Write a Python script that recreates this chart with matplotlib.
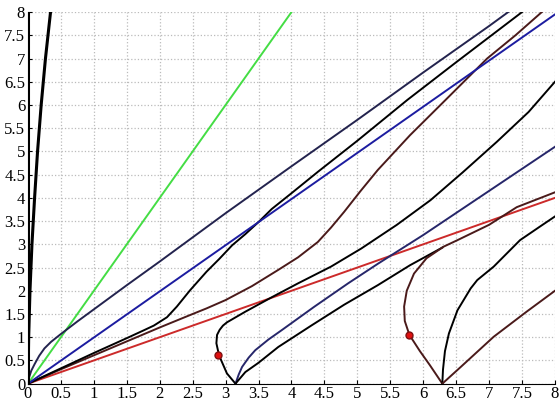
import numpy as np
import matplotlib
matplotlib.use('Agg')
import matplotlib.pyplot as plt
from matplotlib.ticker import MultipleLocator, FormatStrFormatter

plt.rcParams['font.family'] = ['Liberation Serif', 'DejaVu Serif']

# straight reference lines
green_x = [0, 4]
green_y = [0, 8]
blue_x = [0, 8]
blue_y = [0, 7.95]
red_x = [0, 8]
red_y = [0, 4.0]

# branches starting at the origin
axis_x = [0.005, 0.005]
axis_y = [0, 8]
steep_x = [0, 0.01, 0.03, 0.06, 0.10, 0.145, 0.20, 0.265, 0.342]
steep_y = [0, 1, 2, 3, 4, 5, 6, 7, 8]
navy_x = [0, 0.02, 0.05, 0.1, 0.17, 0.25, 0.35, 0.5, 0.75, 1, 1.5, 2, 2.5, 3, 4, 5, 6, 7, 7.29]
navy_y = [0, 0.15, 0.28, 0.42, 0.6, 0.76, 0.9, 1.07, 1.34, 1.6, 2.12, 2.63, 3.15, 3.67, 4.68, 5.68, 6.7, 7.7, 8.0]
a_x = [0, 0.5, 1, 1.5, 1.76, 1.91, 2.11, 2.26, 2.46, 2.71, 2.9, 3.1, 3.3, 3.5, 3.7, 4.0, 4.4, 5.0, 5.76, 6.5, 7.5]
a_y = [0, 0.33, 0.66, 0.98, 1.15, 1.25, 1.43, 1.66, 2.01, 2.41, 2.68, 2.98, 3.22, 3.48, 3.76, 4.1, 4.56, 5.23, 6.11, 6.92, 8.0]
c_x = [0, 0.5, 1, 1.5, 2, 2.5, 2.71, 3.0, 3.4, 3.8, 4.1, 4.4, 4.6, 4.8, 5.05, 5.31, 5.8, 6.34, 6.97, 7.4, 7.8]
c_y = [0, 0.31, 0.61, 0.91, 1.21, 1.5, 1.62, 1.8, 2.1, 2.45, 2.72, 3.05, 3.36, 3.7, 4.15, 4.6, 5.35, 6.11, 7.0, 7.5, 8.0]

# branches around pi
loop1_x = [3.15, 3.02, 2.90, 2.86, 2.87, 2.91, 2.96, 3.02, 3.3, 3.7, 4.1, 4.6, 5.06, 5.6, 6.11, 6.6, 7.12, 7.6, 8.0]
loop1_y = [0, 0.22, 0.61, 0.87, 1.05, 1.16, 1.25, 1.32, 1.55, 1.86, 2.16, 2.52, 2.91, 3.42, 3.95, 4.55, 5.21, 5.85, 6.5]
f_x = [3.15, 3.2, 3.25, 3.35, 3.45, 3.65, 3.85, 4.35, 4.86, 5.31, 6.0, 7.0, 8.0]
f_y = [0, 0.2, 0.36, 0.56, 0.72, 0.95, 1.15, 1.66, 2.16, 2.58, 3.2, 4.15, 5.1]
g_x = [3.15, 3.3, 3.5, 3.8, 4.3, 4.8, 5.31, 5.8, 6.29]
g_y = [0, 0.25, 0.45, 0.79, 1.25, 1.7, 2.12, 2.55, 2.93]

# branches around 2*pi
loop2_x = [6.29, 6.1, 5.95, 5.79, 5.72, 5.71, 5.75, 5.86, 6.05, 6.31, 6.52, 7.0, 7.42, 8.0]
loop2_y = [0, 0.4, 0.7, 1.05, 1.35, 1.66, 2.0, 2.37, 2.7, 2.95, 3.09, 3.42, 3.8, 4.12]
h_x = [6.29, 6.3, 6.33, 6.39, 6.52, 6.72, 6.82, 7.07, 7.47, 7.77, 8.0]
h_y = [0, 0.3, 0.7, 1.08, 1.58, 2.05, 2.23, 2.52, 3.09, 3.38, 3.6]
b_x = [6.29, 6.57, 7.07, 7.57, 8.0]
b_y = [0, 0.36, 1.01, 1.55, 2.0]

dot_x = [2.89, 5.79]
dot_y = [0.61, 1.05]

fig = plt.figure(figsize=(5.6, 4.03), dpi=100)
ax = fig.add_axes([0.05, 0.048, 0.941, 0.922])

lw = 1.4
ax.plot(green_x, green_y, color='#44dd44', lw=lw)
ax.plot(red_x, red_y, color='#cc2a2a', lw=lw)
ax.plot(c_x, c_y, color='#4a1a1a', lw=lw)
ax.plot(a_x, a_y, color='black', lw=lw)
ax.plot(blue_x, blue_y, color='#1c1ca0', lw=lw)
ax.plot(navy_x, navy_y, color='#23234e', lw=lw)
ax.plot(axis_x, axis_y, color='black', lw=2.2)
ax.plot(steep_x, steep_y, color='black', lw=2.2)
ax.plot(loop1_x, loop1_y, color='black', lw=lw)
ax.plot(f_x, f_y, color='#26266a', lw=lw)
ax.plot(g_x, g_y, color='black', lw=lw)
ax.plot(loop2_x, loop2_y, color='#4a1a1a', lw=lw)
ax.plot(h_x, h_y, color='black', lw=lw)
ax.plot(b_x, b_y, color='#4a1a1a', lw=lw)
ax.plot(dot_x, dot_y, 'o', color='#e01010', markeredgecolor='#801010', markersize=5, zorder=5)

ax.set_xlim(0, 8)
ax.set_ylim(0, 8)
ax.xaxis.set_major_locator(MultipleLocator(0.5))
ax.yaxis.set_major_locator(MultipleLocator(0.5))
ax.xaxis.set_major_formatter(FormatStrFormatter('%g'))
ax.yaxis.set_major_formatter(FormatStrFormatter('%g'))
ax.grid(True, color='#bbbbbb', linestyle=':', linewidth=0.9)
ax.set_axisbelow(True)
ax.spines['top'].set_visible(False)
ax.spines['right'].set_visible(False)
ax.tick_params(direction='in', length=3, labelsize=12, pad=2)

fig.savefig('out.png', dpi=100)
